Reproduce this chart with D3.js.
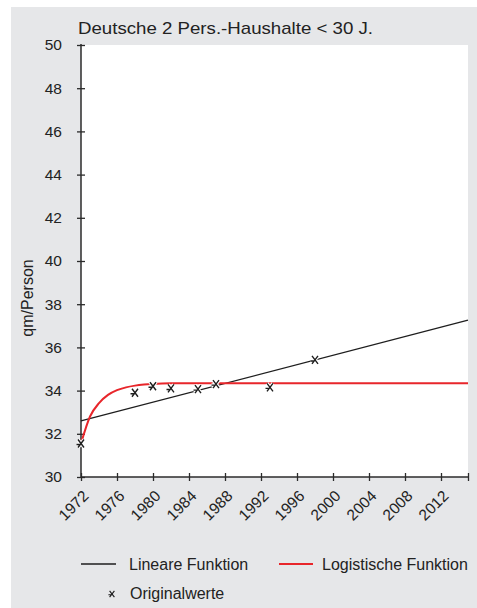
<!DOCTYPE html>
<html>
<head>
<meta charset="utf-8">
<script src="https://cdnjs.cloudflare.com/ajax/libs/d3/7.8.5/d3.min.js"></script>
<style>
  html, body { margin: 0; padding: 0; background: #ffffff; }
  svg { display: block; font-family: "Liberation Sans", Arial, sans-serif; }
</style>
</head>
<body>
<svg id="chart" width="477" height="608"></svg>
<script>
// Survey values: living space per person (qm) of German two-person households, head under 30
const obsYears  = [1972, 1978, 1980, 1982, 1985, 1987, 1993, 1998];
const obsValues = [31.55, 33.9, 34.2, 34.1, 34.07, 34.3, 34.15, 35.42];

// Fitted linear trend (end points of the straight line)
const linYears  = [1972, 2015];
const linValues = [32.6, 37.26];

// Fitted logistic curve (saturates at about 34.34)
const logYears  = [1972, 1973, 1974, 1975, 1976, 1977, 1978, 1979, 1980, 1981, 1982, 2015];
const logValues = [31.55, 32.8, 33.42, 33.8, 34.02, 34.15, 34.23, 34.28, 34.31, 34.33, 34.34, 34.34];

// Axis ticks
const xTickYears = [1972, 1976, 1980, 1984, 1988, 1992, 1996, 2000, 2004, 2008, 2012, 2015];
const xTickLabels = ["1972", "1976", "1980", "1984", "1988", "1992", "1996", "2000", "2004", "2008", "2012", ""];
const yTicks = [30, 32, 34, 36, 38, 40, 42, 44, 46, 48, 50];

const titleText = "Deutsche 2 Pers.-Haushalte < 30 J.";
const yTitle = "qm/Person";
const legendLabels = ["Lineare Funktion", "Logistische Funktion", "Originalwerte"];

const svg = d3.select("#chart");
const plot = { left: 81, right: 468, top: 45, bottom: 477 };
const axisColor = "#2b2b2b";
const textColor = "#222222";
const red = "#e8262b";

// Panel background
svg.append("rect").attr("x", 11).attr("y", 7).attr("width", 466).attr("height", 601)
  .attr("fill", "#e6e7e9");

// Plot area
svg.append("rect").attr("x", plot.left).attr("y", plot.top)
  .attr("width", plot.right - plot.left).attr("height", plot.bottom - plot.top)
  .attr("fill", "#ffffff");

const x = d3.scaleLinear().domain([1972, 2015]).range([plot.left, plot.right]);
const y = d3.scaleLinear().domain([30, 50]).range([plot.bottom, plot.top]);

// Title
svg.append("text").attr("x", 78).attr("y", 34)
  .attr("font-size", 17).attr("fill", textColor)
  .attr("textLength", 295).attr("lengthAdjust", "spacingAndGlyphs")
  .text(titleText);

// Y axis
const yAxis = svg.append("g").attr("transform", `translate(${plot.left},0)`)
  .call(d3.axisLeft(y).tickValues(yTicks).tickSize(4).tickPadding(15).tickFormat(d3.format("d")));
yAxis.select(".domain").remove();
yAxis.selectAll(".tick line").attr("x1", 4).attr("x2", -4).attr("stroke", axisColor).attr("stroke-width", 1.3);
yAxis.selectAll(".tick text").attr("font-size", 15.5).attr("fill", textColor)
  .attr("font-family", "Liberation Sans, Arial, sans-serif");
svg.append("line").attr("x1", plot.left).attr("x2", plot.left)
  .attr("y1", plot.top - 1).attr("y2", plot.bottom)
  .attr("stroke", axisColor).attr("stroke-width", 1.5);

// X axis
const xAxis = svg.append("g").attr("transform", `translate(0,${plot.bottom})`)
  .call(d3.axisBottom(x).tickValues(xTickYears).tickSize(4)
    .tickFormat((d, i) => xTickLabels[i]));
xAxis.select(".domain").remove();
xAxis.selectAll(".tick line").attr("y1", -4).attr("y2", 4).attr("stroke", axisColor).attr("stroke-width", 1.3);
xAxis.selectAll(".tick text")
  .attr("font-size", 15.5).attr("fill", textColor)
  .attr("font-family", "Liberation Sans, Arial, sans-serif")
  .attr("text-anchor", "end")
  .attr("dy", null).attr("y", null)
  .attr("transform", "translate(8,20) rotate(-45)");
svg.append("line").attr("x1", plot.left).attr("x2", plot.right)
  .attr("y1", plot.bottom).attr("y2", plot.bottom)
  .attr("stroke", axisColor).attr("stroke-width", 1.5);

// Y axis title
svg.append("text").attr("transform", `translate(33,298) rotate(-90)`)
  .attr("text-anchor", "middle").attr("font-size", 16).attr("fill", textColor).text(yTitle);

const line = d3.line().x(d => x(d[0])).y(d => y(d[1]));

// Linear trend
svg.append("path").datum(d3.zip(linYears, linValues))
  .attr("d", line).attr("fill", "none").attr("stroke", "#1e1e1e").attr("stroke-width", 1.3);

// Logistic curve
svg.append("path").datum(d3.zip(logYears, logValues))
  .attr("d", line.curve(d3.curveMonotoneX)).attr("fill", "none")
  .attr("stroke", red).attr("stroke-width", 2);

// Marker glyph: a slanted cross with a short bar
const markerPath = "M-3,-4L3,4M3,-4L-3,4M-4.5,1L-1,1";
function drawMarker(g, cx, cy) {
  g.append("path").attr("transform", `translate(${cx},${cy})`).attr("d", markerPath)
    .attr("fill", "none").attr("stroke", "#ffffff").attr("stroke-width", 3.5);
  g.append("path").attr("transform", `translate(${cx},${cy})`).attr("d", markerPath)
    .attr("fill", "none").attr("stroke", "#1e1e1e").attr("stroke-width", 1.4);
}
const markers = svg.append("g");
obsYears.forEach((yr, i) => drawMarker(markers, x(yr), y(obsValues[i])));

// Legend
const lg = svg.append("g");
lg.append("line").attr("x1", 81).attr("x2", 116).attr("y1", 564).attr("y2", 564)
  .attr("stroke", "#1e1e1e").attr("stroke-width", 1.3);
lg.append("text").attr("x", 129).attr("y", 570).attr("font-size", 16).attr("fill", textColor)
  .text(legendLabels[0]);
lg.append("line").attr("x1", 279).attr("x2", 313).attr("y1", 564).attr("y2", 564)
  .attr("stroke", red).attr("stroke-width", 2);
lg.append("text").attr("x", 322).attr("y", 570).attr("font-size", 16).attr("fill", textColor)
  .text(legendLabels[1]);
const lm = lg.append("g");
lm.append("path").attr("transform", "translate(112,594) scale(0.8)").attr("d", markerPath)
  .attr("fill", "none").attr("stroke", "#1e1e1e").attr("stroke-width", 1.4);
lg.append("text").attr("x", 130).attr("y", 599).attr("font-size", 16).attr("fill", textColor)
  .text(legendLabels[2]);
</script>
</body>
</html>
